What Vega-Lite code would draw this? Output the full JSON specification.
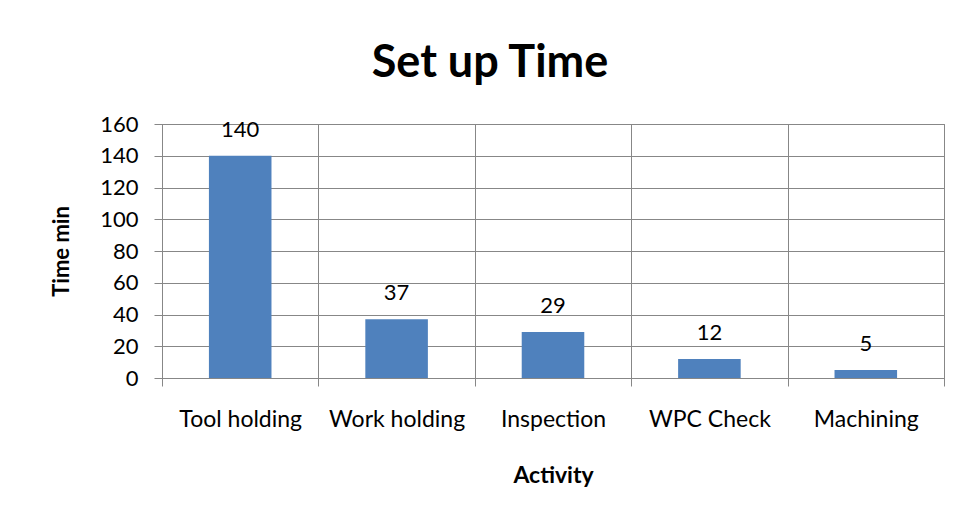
{
  "$schema": "https://vega.github.io/schema/vega-lite/v6.json",
  "width": 782,
  "height": 254,
  "autosize": {"type": "none"},
  "padding": {"left": 162, "top": 124, "right": 16, "bottom": 139},
  "background": "white",
  "title": {"text": "Set up Time", "fontSize": 45, "font": "Lato", "fontWeight": "bold", "color": "black", "anchor": "middle", "dx": -63, "offset": 27},
  "data": {"values": [
    {"activity": "Tool holding", "time": 140},
    {"activity": "Work holding", "time": 37},
    {"activity": "Inspection", "time": 29},
    {"activity": "WPC Check", "time": 12},
    {"activity": "Machining", "time": 5}
  ]},
  "encoding": {
    "x": {"field": "activity", "type": "nominal", "sort": null,
      "scale": {"paddingInner": 0, "paddingOuter": 0},
      "axis": {"title": "Activity", "labelAngle": 0, "tickBand": "extent", "tickSize": 8, "labelPadding": 22, "grid": true,
        "gridColor": "#878787", "tickColor": "#878787", "domainColor": "#878787",
        "labelFont": "Lato", "labelFontSize": 23, "labelColor": "black",
        "titleFont": "Lato", "titleFontSize": 23, "titleFontWeight": "bold", "titleColor": "black", "titlePadding": 33}},
    "y": {"field": "time", "type": "quantitative", "scale": {"domain": [0, 160]},
      "axis": {"title": "Time min", "values": [0, 20, 40, 60, 80, 100, 120, 140, 160], "tickSize": 8, "labelPadding": 16,
        "gridColor": "#878787", "tickColor": "#878787", "domainColor": "#878787",
        "labelFont": "Lato", "labelFontSize": 22, "labelColor": "black",
        "titleFont": "Lato", "titleFontSize": 22, "titleFontWeight": "bold", "titleColor": "black", "titlePadding": 26}}
  },
  "layer": [
    {"mark": {"type": "bar", "color": "#4F81BD", "width": {"band": 0.4}}},
    {"mark": {"type": "text", "dy": -26, "fontSize": 22, "font": "Lato", "color": "black"},
     "encoding": {"text": {"field": "time", "type": "quantitative"}}}
  ],
  "config": {"view": {"stroke": "#878787", "strokeWidth": 1}}
}
